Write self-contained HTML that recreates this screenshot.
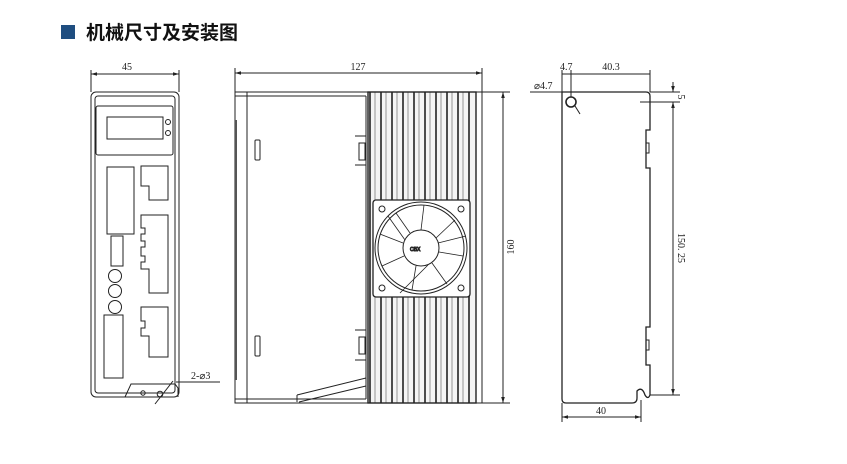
<!DOCTYPE html>
<html><head><meta charset="utf-8"><style>
html,body{margin:0;padding:0;background:#fff;width:847px;height:464px;overflow:hidden}
svg{display:block}
text{font-family:"Liberation Serif",serif;font-size:10px;fill:#222}
</style></head><body>
<svg width="847" height="464" viewBox="0 0 847 464" xmlns="http://www.w3.org/2000/svg">
<defs>
<marker id="a" viewBox="0 0 10 10" refX="10" refY="5" markerWidth="6" markerHeight="6" orient="auto-start-reverse"><path d="M0 2 L10 5 L0 8 Z" fill="#222"/></marker>
</defs>
<rect x="61" y="25" width="14" height="14" fill="#1f4e80"/>
<text x="86" y="39" style="font-family:'Liberation Sans','Noto Sans CJK SC',sans-serif;font-size:19px;font-weight:bold;fill:#111">机械尺寸及安装图</text>
<g fill="none" stroke="#222" stroke-width="1">
<!-- FRONT VIEW -->
<line x1="91" y1="70" x2="91" y2="92"/><line x1="179" y1="70" x2="179" y2="92"/>
<line x1="91" y1="74" x2="179" y2="74" marker-start="url(#a)" marker-end="url(#a)"/>
<rect x="91" y="92" width="88" height="305" rx="5"/>
<rect x="95" y="96" width="80" height="297" rx="3"/>
<rect x="96" y="106" width="77" height="49" rx="2"/>
<rect x="107" y="117" width="56" height="22"/>
<circle cx="168" cy="122" r="2.5"/><circle cx="168" cy="133" r="2.5"/>
<rect x="107" y="167" width="27" height="67"/>
<rect x="111" y="236" width="12" height="30"/>
<circle cx="115" cy="276" r="6.5"/><circle cx="115" cy="291" r="6.5"/><circle cx="115" cy="307" r="6.5"/>
<rect x="104" y="315" width="19" height="63"/>
<path d="M141 166 H168 V200 H149 V186 H141 Z"/>
<path d="M141 215 H168 V293 H149 V269 H141 V262 H145 V256 H141 V247 H145 V241 H141 V234 H145 V228 H141 Z"/>
<path d="M141 307 H168 V357 H149 V336 H141 V328 H145 V321 H141 Z"/>
<path d="M125 397 L131 384 H175 L178 388 V397"/>
<circle cx="143" cy="393" r="2.2"/><circle cx="160" cy="394" r="2.8"/>
<line x1="173" y1="381" x2="155" y2="404"/>
<line x1="176" y1="382" x2="220" y2="382"/>
<!-- SIDE VIEW -->
<line x1="235" y1="68" x2="235" y2="92"/><line x1="482" y1="68" x2="482" y2="92"/>
<line x1="235" y1="73" x2="482" y2="73" marker-start="url(#a)" marker-end="url(#a)"/>
<rect x="235" y="92" width="247" height="311"/>
<line x1="247" y1="92" x2="247" y2="403"/>
<line x1="236" y1="120" x2="236" y2="380" stroke-width="2" stroke="#555"/>
<line x1="235" y1="96" x2="366" y2="96"/><line x1="235" y1="399" x2="366" y2="399"/>
<line x1="366" y1="96" x2="366" y2="399"/>
<rect x="255" y="140" width="5" height="20" rx="1"/><rect x="255" y="336" width="5" height="20" rx="1"/>
<rect x="359" y="143" width="6" height="17"/><rect x="359" y="337" width="6" height="17"/>
<line x1="355" y1="136" x2="366" y2="136"/><line x1="355" y1="165" x2="366" y2="165"/>
<line x1="355" y1="330" x2="366" y2="330"/><line x1="355" y1="360" x2="366" y2="360"/>
<path d="M297 395 L366 378 M299 402 L366 386 M297 395 V402"/>
<line x1="482" y1="92" x2="510" y2="92"/><line x1="482" y1="403" x2="510" y2="403"/>
<line x1="503" y1="92" x2="503" y2="403" marker-start="url(#a)" marker-end="url(#a)"/>
<line x1="475" y1="92" x2="475" y2="403" stroke-width="2"/>
</g>
<g stroke="#222" fill="none">
<rect x="368" y="92" width="108" height="311" fill="#f4f4f4"/>
<g stroke-width="1.6">
<line x1="370" y1="92" x2="370" y2="403"/><line x1="381" y1="92" x2="381" y2="403"/><line x1="392" y1="92" x2="392" y2="403"/>
<line x1="403" y1="92" x2="403" y2="403"/><line x1="414" y1="92" x2="414" y2="403"/><line x1="425" y1="92" x2="425" y2="403"/>
<line x1="436" y1="92" x2="436" y2="403"/><line x1="447" y1="92" x2="447" y2="403"/><line x1="458" y1="92" x2="458" y2="403"/>
<line x1="469" y1="92" x2="469" y2="403"/>
</g>
<g stroke-width="0.6" stroke="#555">
<line x1="375" y1="92" x2="375" y2="403"/><line x1="386" y1="92" x2="386" y2="403"/><line x1="397" y1="92" x2="397" y2="403"/>
<line x1="408" y1="92" x2="408" y2="403"/><line x1="419" y1="92" x2="419" y2="403"/><line x1="430" y1="92" x2="430" y2="403"/>
<line x1="441" y1="92" x2="441" y2="403"/><line x1="452" y1="92" x2="452" y2="403"/><line x1="463" y1="92" x2="463" y2="403"/>
</g>
<rect x="373" y="200" width="97" height="97" rx="3" fill="#fff" stroke-width="1.3"/>
<circle cx="421" cy="248" r="46"/><circle cx="421" cy="248" r="43"/>
<circle cx="421" cy="248" r="18"/>
<circle cx="382" cy="209" r="3"/><circle cx="461" cy="209" r="3"/><circle cx="382" cy="288" r="3"/><circle cx="461" cy="288" r="3"/>
<g stroke-width="0.8">
<line x1="421" y1="230" x2="424" y2="205"/><line x1="436" y1="238" x2="455" y2="220"/><line x1="439" y1="252" x2="463" y2="256"/>
<line x1="432" y1="263" x2="447" y2="284"/><line x1="416" y1="266" x2="412" y2="290"/><line x1="404" y1="256" x2="382" y2="266"/>
<line x1="403" y1="243" x2="380" y2="234"/><line x1="410" y1="233" x2="396" y2="213"/>
<path d="M388 216 L405 240 M438 243 L466 236 M428 265 L400 293"/>
</g>
<text x="410" y="251" style="font-size:5px;font-family:'Liberation Sans',sans-serif">CBX</text>
<rect x="368" y="92" width="108" height="311" stroke-width="1.4"/>
</g>
<!-- RIGHT VIEW -->
<g fill="none" stroke="#222" stroke-width="1">
<path d="M562 92 H646 Q650 92 650 96 V130 H646 V168 H650 V327 H646 V365 H650 V395 Q648 400 645 395 Q642 386 637 391 V398 Q637 403 632 403 H566 Q562 403 562 399 Z" stroke-width="1.3"/>
<rect x="646" y="143" width="3" height="10"/><rect x="646" y="340" width="3" height="10"/>
<circle cx="571" cy="102" r="5" stroke-width="1.6"/>
<line x1="575" y1="106" x2="580" y2="114"/>
<line x1="562" y1="70" x2="562" y2="92"/><line x1="571" y1="70" x2="571" y2="97"/><line x1="650" y1="70" x2="650" y2="92"/>
<line x1="562" y1="74" x2="650" y2="74"/>
<line x1="530" y1="92" x2="562" y2="92"/>
<line x1="650" y1="92" x2="680" y2="92"/><line x1="640" y1="102" x2="680" y2="102"/><line x1="650" y1="395" x2="680" y2="395"/>
<line x1="673" y1="82" x2="673" y2="92" marker-end="url(#a)"/>
<line x1="673" y1="102" x2="673" y2="395" marker-start="url(#a)" marker-end="url(#a)"/>
<line x1="562" y1="403" x2="562" y2="422"/><line x1="641" y1="400" x2="641" y2="422"/>
<line x1="562" y1="417" x2="641" y2="417" marker-start="url(#a)" marker-end="url(#a)"/>
</g>
<text x="127" y="70" text-anchor="middle">45</text>
<text x="191" y="379">2-⌀3</text>
<text x="358" y="70" text-anchor="middle">127</text>
<text transform="translate(514,247) rotate(-90)" text-anchor="middle">160</text>
<text x="560" y="70">4.7</text>
<text x="611" y="70" text-anchor="middle">40.3</text>
<text x="534" y="89">⌀4.7</text>
<text transform="translate(678,97) rotate(90)" text-anchor="middle">5</text>
<text transform="translate(678,248) rotate(90)" text-anchor="middle">150. 25</text>
<text x="601" y="414" text-anchor="middle">40</text>
</svg>
</body></html>
